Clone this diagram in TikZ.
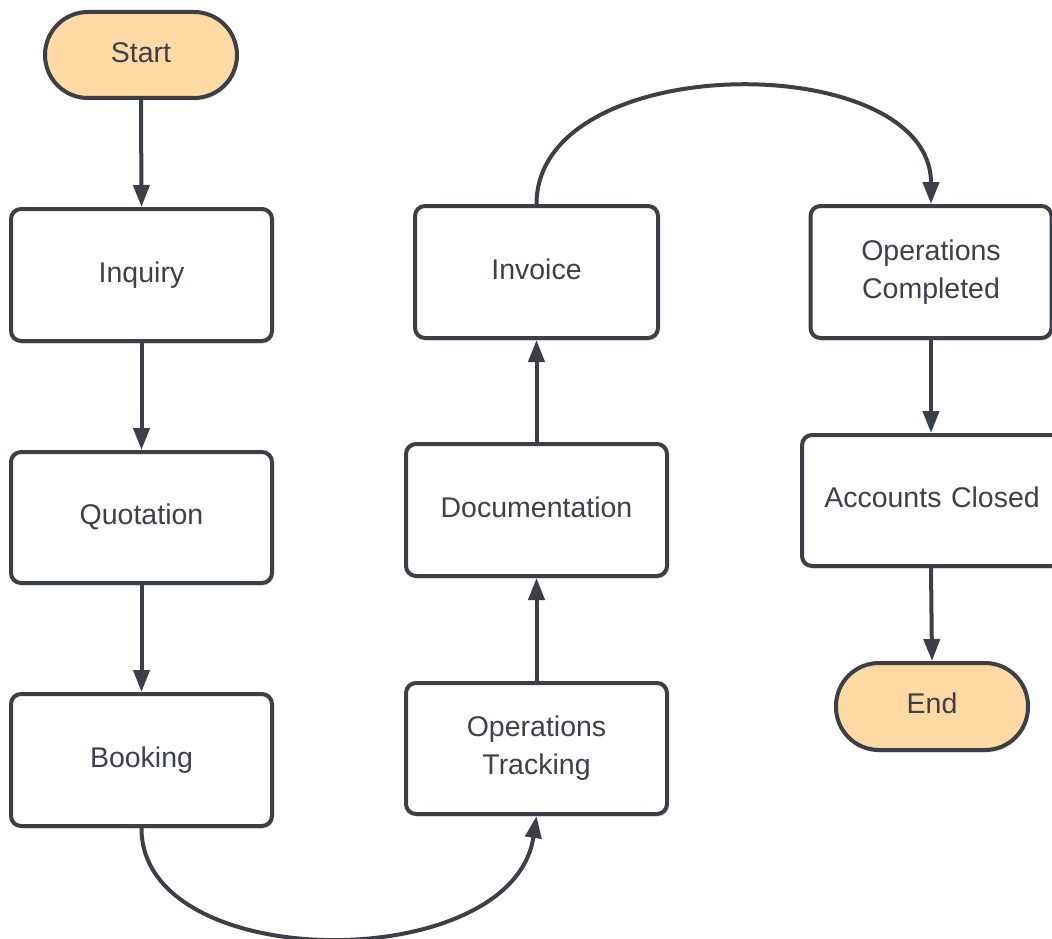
\documentclass[tikz,border=0pt]{standalone}
\usepackage{fontspec}
\setmainfont{Liberation Sans}
\usetikzlibrary{arrows.meta,shadows}
\definecolor{strk}{HTML}{3B4047}
\definecolor{txt}{HTML}{3C4149}
\definecolor{pill}{HTML}{FDD9A3}
\tikzset{
  box/.style={draw=strk, line width=4pt, fill=white, rounded corners=10pt,
    inner sep=0pt, align=center, text=txt,
    font=\fontsize{28.5}{38}\selectfont,
    drop shadow={shadow xshift=1.5pt, shadow yshift=-2.5pt, opacity=0.12, fill=black}},
  oneline/.style={text height=20.4pt, text depth=6pt},
  term/.style={box, oneline, fill=pill, rounded corners=43pt},
  flow/.style={draw=strk, line width=4pt, -{Triangle[length=22pt, width=16pt]}}
}
\begin{document}
\begin{tikzpicture}[x=1pt, y=-1pt]
\useasboundingbox (0,0) rectangle (1052,939);
\clip (0,0) rectangle (1052,939);
\node[term, minimum width=192pt, minimum height=86pt] (start) at (141,55) {Start};
\node[box, oneline, minimum width=261pt, minimum height=132pt] (inq) at (141.5,275) {Inquiry};
\node[box, oneline, minimum width=261pt, minimum height=131pt] (quo) at (141.5,517.5) {Quotation};
\node[box, oneline, minimum width=261pt, minimum height=132pt] (book) at (141.5,760) {Booking};
\node[box, minimum width=261pt, minimum height=131pt] (track) at (536.5,748.5) {Operations\\Tracking};
\node[box, oneline, minimum width=261pt, minimum height=132pt] (doc) at (536.5,510) {Documentation};
\node[box, oneline, minimum width=243pt, minimum height=132pt] (inv) at (536.5,272) {Invoice};
\node[box, minimum width=241pt, minimum height=132pt] (opc) at (931,272) {Operations\\Completed};
\node[box, oneline, minimum width=260pt, minimum height=131pt, text width=260pt] (acc) at (932,500.5) {Accounts Closed};
\node[term, minimum width=192pt, minimum height=87pt] (end) at (932,706.5) {End};

\draw[flow] (start.south) -- (inq.north);
\draw[flow] (inq.south) -- (quo.north);
\draw[flow] (quo.south) -- (book.north);
\draw[flow] (book.south) .. controls (141,976) and (513,976) .. (track.south);
\draw[flow] (track.north) -- (doc.south);
\draw[flow] (doc.north) -- (inv.south);
\draw[flow] (inv.north) .. controls (537,48) and (931,48) .. (opc.north);
\draw[flow] (opc.south) -- (opc.south |- acc.north);
\draw[flow] (opc.south |- acc.south) -- (end.north);
\end{tikzpicture}
\end{document}
